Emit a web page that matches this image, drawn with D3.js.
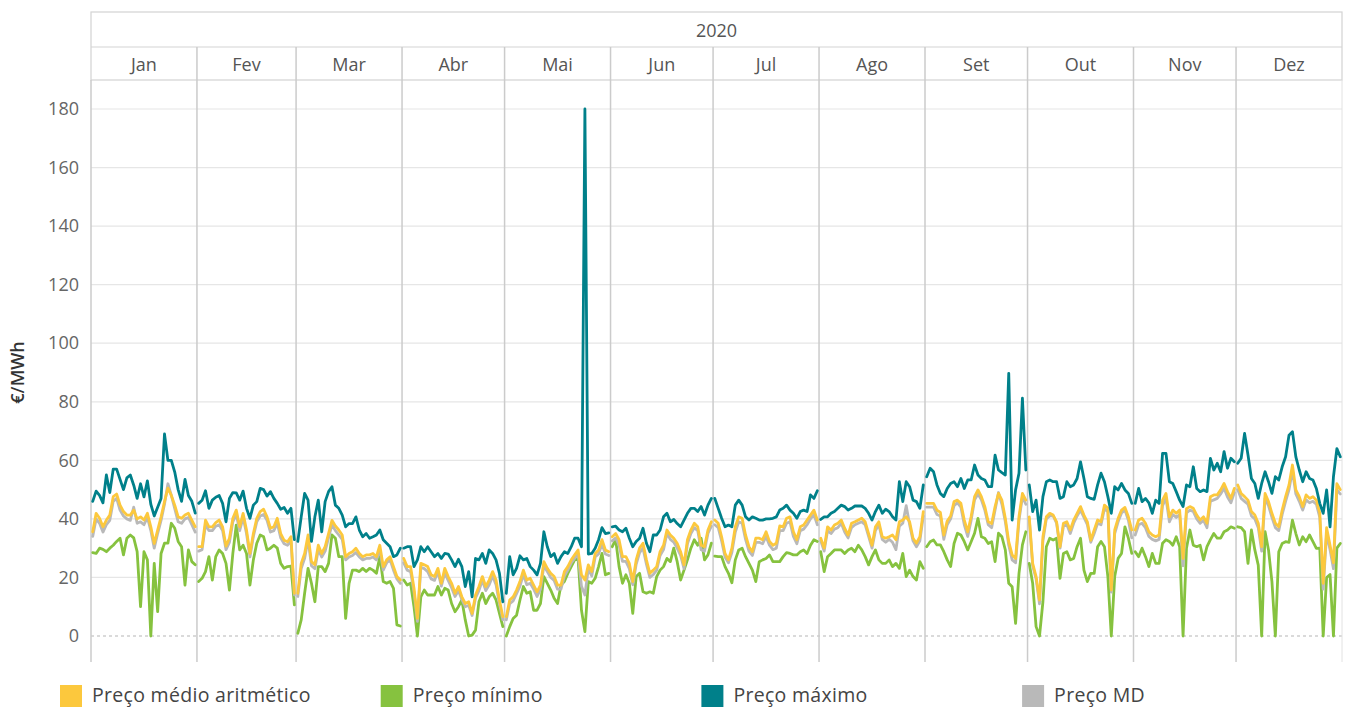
<!DOCTYPE html>
<html>
<head>
<meta charset="utf-8">
<script src="https://cdn.jsdelivr.net/npm/d3@7"></script>
<style>
  html, body { margin: 0; padding: 0; background: #fff; }
  svg { display: block; font-family: "Open Sans", "Noto Sans", sans-serif; }
</style>
</head>
<body>
<svg id="chart" width="1349" height="708"></svg>
<script>
const year = 2020;
const months = ["Jan", "Fev", "Mar", "Abr", "Mai", "Jun", "Jul", "Ago", "Set", "Out", "Nov", "Dez"];
const yTicks = [0, 20, 40, 60, 80, 100, 120, 140, 160, 180];

// daily values per month, €/MWh
const precoMaximo = [
  [46, 49.5, 48, 45.5, 55, 49, 57, 57, 53.5, 50, 54, 55, 51.5, 47, 52, 47.5, 53, 45, 41, 44, 47, 69, 60, 60, 56, 50, 46, 53.5, 48, 46, 42],
  [45.3, 46.4, 49.6, 43.6, 46.4, 47.4, 48, 45.3, 39, 47, 49, 48.9, 46.4, 49.5, 43.6, 40.2, 44.7, 45.9, 50.4, 50, 47.8, 49.3, 47, 45.3, 43.3, 43.9, 41.9, 43.6, 32.9],
  [32.3, 40.7, 48.7, 46.4, 32.3, 40.7, 46.4, 35.6, 45.9, 49.3, 51, 44.7, 43.6, 41.3, 37.3, 38.4, 38.4, 40.7, 36.2, 33.9, 35, 33.4, 33.9, 34.5, 36.2, 32.9, 31.7, 30.5, 27.1, 27.7, 30],
  [30, 30.5, 30.5, 23.7, 26, 30.5, 28.8, 30.5, 28.8, 27.1, 28.2, 26.5, 28.2, 28, 26, 23.7, 26.2, 23.7, 16.9, 22, 13.4, 26.5, 26, 28.2, 24.8, 29.4, 28.2, 26, 21.4, 11.7],
  [14.6, 27.1, 20.9, 23.1, 27.4, 26, 26.5, 23.7, 22.5, 20.9, 24.8, 35.6, 30.5, 27.1, 28.2, 24.8, 27.1, 28.8, 28.2, 30.5, 33.4, 33.4, 30.5, 180, 28, 28.2, 30, 32.9, 37, 35, 35.2],
  [37.3, 37.5, 36.2, 35.6, 36.8, 33.4, 30.5, 32.3, 33.4, 36.8, 31.7, 28.8, 34.5, 34.5, 36.2, 40.7, 41.9, 39, 39.8, 38.4, 37.3, 39.6, 41.9, 43.6, 43.6, 42.5, 44.2, 41.3, 44.7, 47],
  [47, 43.6, 40.2, 37.3, 37.9, 37.3, 44.7, 46.4, 44.7, 40.7, 39.6, 40.7, 40.2, 39.6, 39.6, 40, 40, 40.2, 40.7, 43, 43.6, 44.7, 43, 41.9, 40.2, 42.5, 43, 42.5, 48.2, 47, 49.6],
  [39.8, 40.7, 40.7, 41.9, 42.5, 43.6, 44.7, 44.2, 43, 43.6, 44.4, 44.4, 44.4, 43.6, 41.9, 39.6, 42.5, 44.7, 41.9, 43.3, 42.5, 40.7, 39.6, 52.7, 45.9, 52.7, 51, 46.4, 45.9, 43.6, 51.6],
  [54.4, 57.3, 56.1, 51.6, 48.7, 47.6, 50.4, 52.1, 52.7, 51, 53.8, 50.4, 53.3, 53.3, 58.4, 55, 53.8, 53.3, 51, 51, 61.8, 56.7, 55.8, 55, 89.7, 39.6, 49.9, 55.6, 81.2, 56.7],
  [51.6, 42.5, 46.4, 36.2, 47.6, 52.7, 53.3, 52.7, 52.7, 47, 47.6, 52.7, 51, 51.6, 53.8, 59.5, 53.8, 47.6, 47, 46.7, 51.6, 55.6, 52.7, 47.6, 41.9, 51, 49.9, 52.1, 49.9, 48.7, 45.3],
  [45.3, 50.4, 45.9, 47, 45.5, 41.9, 46.4, 45.3, 62.4, 62.4, 52.7, 52.1, 49.3, 46.4, 44.2, 51.6, 51, 57.8, 50.4, 49.3, 49.9, 49.3, 60.7, 56.7, 59, 56.1, 63, 57.3, 60.7, 59.5],
  [59, 60.7, 69.2, 61.8, 53.8, 52.1, 47, 52.1, 56.1, 52.7, 48.7, 54.4, 53.3, 57.8, 61.2, 68.6, 69.8, 61.2, 56.7, 52.7, 56.1, 53.8, 53.3, 50.4, 45.3, 41.9, 49.9, 37.3, 54.4, 64, 61.2]
];

const precoMedio = [
  [35.6, 41.9, 40.2, 37.3, 39.6, 41.3, 47.6, 48.5, 44.7, 42.5, 41.3, 41.3, 43, 40, 40.7, 39.6, 41.9, 37.3, 31.6, 36.2, 40.7, 45.9, 50.5, 48, 44.7, 40.7, 40.2, 41.3, 41.9, 39.6, 37.3],
  [30.5, 30.5, 39.6, 37.3, 37.3, 38.7, 39.6, 37.3, 30.7, 33.4, 40.2, 43, 37.3, 41.9, 36.2, 28.2, 35, 40.2, 42.5, 43.3, 40.7, 36.8, 37.3, 40.2, 35, 32.7, 32.2, 33.9, 14.6],
  [14.6, 24.8, 28.2, 34.5, 25.4, 24.3, 31, 28.2, 30.5, 35, 39.5, 37.6, 36.2, 34.5, 27.1, 28.2, 28.8, 30, 28.2, 27.1, 27.7, 27.7, 28.2, 27.1, 31, 23.7, 26, 27.1, 23.7, 20.3, 19.1],
  [26.5, 23.7, 23.7, 16.3, 6, 24.8, 24.3, 23.7, 20.9, 20.3, 23.1, 18, 23.1, 20.3, 18, 14.6, 16.9, 13.4, 11.1, 11.7, 7.7, 14, 16.9, 20.3, 16.9, 19.1, 22, 19.1, 12.3, 6.6],
  [6.6, 12.3, 13.4, 15.7, 18.6, 22.5, 19.1, 19.7, 17.4, 15.1, 17.4, 25.4, 23.1, 21.4, 20.3, 17.4, 17.4, 22, 23.7, 26, 27.7, 29.4, 20.9, 19.1, 24.3, 22, 28.2, 29.4, 32.9, 29.4, 28.8],
  [33.9, 35, 32.9, 27.1, 27.1, 24.8, 18.6, 26, 30, 31.7, 26, 21.4, 22.5, 23.7, 28.8, 31, 36.2, 34.5, 33.4, 31.7, 28.8, 24.3, 32.9, 36.2, 38.5, 37.3, 31, 30.5, 36.2, 39],
  [39.6, 38.5, 33.9, 28.2, 26, 30, 37.3, 40.7, 40.2, 34.5, 30.5, 28.8, 33.4, 33.4, 32.9, 35.6, 32.3, 31, 31.7, 37.6, 37.3, 40.2, 40.7, 35.6, 32.9, 37.3, 37.9, 39.6, 41.3, 43, 39.6],
  [33.4, 30, 37.3, 36.2, 37.9, 38.5, 39.6, 36.8, 34.5, 38.5, 39, 39.6, 40.2, 39, 35, 31, 37.3, 39, 33.9, 33.4, 33.9, 34.5, 32.9, 39, 39.6, 40.7, 39, 33.4, 31.7, 33.9, 42.5],
  [45.3, 45.3, 45.3, 43, 42.2, 34.5, 39.3, 41, 45.9, 46.4, 45.3, 39.6, 35.6, 40.8, 47.6, 49.9, 47.6, 44.2, 39, 38.4, 44.2, 48.7, 46.4, 40.2, 32.2, 27.7, 26.5, 40.8, 48.7, 46.4],
  [40.7, 24.8, 20.3, 12.3, 33.9, 40.7, 41.9, 41.3, 39, 30.5, 38.5, 39, 36.2, 39.6, 41.9, 44.2, 41.3, 39, 32.7, 36.2, 39.6, 39, 44.7, 43.6, 15.7, 36.2, 40.2, 43, 43.9, 40.7, 36.2],
  [36.2, 39.6, 40.2, 38.5, 35.6, 34.5, 33.9, 34.5, 46.4, 48.7, 40.7, 43, 41.9, 43, 26.5, 43.5, 44.2, 43.6, 41.3, 39.6, 40.7, 38.5, 47.6, 48.2, 48.2, 49.9, 52.1, 49.3, 47, 50.4],
  [51.6, 48.7, 47.6, 46.4, 42.5, 41.3, 38.5, 30.5, 48.7, 45.9, 41.9, 38.5, 37.3, 43, 47.6, 51.6, 58.4, 49.9, 47.6, 44.2, 48.2, 47, 47.6, 46.4, 42, 18, 37, 31, 25, 52, 50]
];

const precoMinimo = [
  [28.5, 28.2, 30, 29.6, 28.8, 30, 31, 32.3, 33.4, 27.7, 33.4, 34.5, 33.5, 28.8, 10, 28.8, 26, 0, 24.8, 8.3, 28.2, 31.7, 31.7, 38.5, 36.8, 32.3, 30.5, 17.4, 29.4, 25.4, 24.3],
  [18.6, 19.7, 22, 27.1, 19.1, 27.1, 29.4, 28.2, 24.8, 15.7, 28.2, 37.9, 29.4, 31, 28.2, 17.4, 26, 31.7, 34.5, 33.9, 29.4, 30, 31, 30, 24.8, 23.1, 23.7, 23.9, 10.6],
  [0.9, 5.5, 14.6, 23.1, 18, 11.7, 23.7, 23.7, 22, 24.8, 34.5, 33.4, 27.1, 27.1, 6, 18, 22.5, 22.5, 22, 23.1, 22, 23.1, 22.5, 21.4, 27.1, 18.6, 18, 18.6, 16.3, 3.8, 3.4],
  [19.1, 17.4, 18, 10, 0, 13.4, 15.7, 14, 14, 14, 16.9, 14, 16.3, 15.7, 11.1, 8.3, 10, 12.3, 5.5, 0, 0.3, 2, 11.7, 14.6, 11.1, 13.4, 14.6, 12.3, 7.7, 3.2],
  [0, 3.2, 6, 7.1, 12.3, 16.9, 14.6, 15.1, 8.8, 8.8, 11.1, 20.3, 18, 15.7, 12.9, 11.1, 17.4, 18.6, 21.4, 23.7, 26, 26.5, 8.8, 1.5, 18.6, 18, 19.7, 23.7, 28.2, 20.9, 21.4],
  [30.5, 32.9, 23.7, 18, 20.9, 18, 7.7, 20.3, 21.4, 15.1, 14.6, 15.1, 14.6, 20.3, 22.5, 23.7, 26.5, 25.4, 30, 25.4, 19.1, 22.5, 26, 30, 32.9, 31, 33.4, 26, 27.7, 31.7],
  [27.3, 27.1, 27.1, 23.7, 21.4, 18.2, 26, 29.4, 30, 27.1, 24.8, 22.5, 18.6, 25.4, 26, 26.5, 27.7, 25.4, 25.4, 25.4, 27.1, 28.5, 28.2, 27.7, 27.7, 28.8, 29.4, 28.2, 31, 32.9, 32.3],
  [28.8, 22, 27.1, 28.2, 29.4, 29.4, 29.4, 28.2, 29.4, 30, 28.8, 31, 29.4, 27.1, 24.3, 27.1, 29.4, 26, 24.8, 24.8, 26, 23.7, 24.8, 23.1, 28.2, 20.3, 22.5, 20.3, 19.1, 25.4, 23.1],
  [30.5, 32.2, 32.8, 31.1, 31.1, 28.8, 26, 23.7, 31.6, 35.1, 34.5, 32.2, 29.4, 32.2, 35.1, 40.2, 33.9, 33.4, 31.6, 32.2, 25.4, 35.1, 33.9, 29.4, 18, 16.8, 4.3, 21.4, 31.1, 35.6],
  [24.8, 18, 3.2, 0, 11.7, 30.5, 33.4, 32.8, 33.4, 19.7, 28.2, 28.8, 26, 26.5, 30.5, 33.4, 22.5, 18.6, 21.4, 21.4, 30.5, 32.3, 30.5, 20.3, 0, 20.3, 26.5, 28.2, 37.3, 33.4, 28.2],
  [28.8, 27.1, 30, 27.1, 23.7, 28.2, 24.8, 24.8, 31.7, 32.9, 32.3, 31, 33.9, 30.5, 0, 30, 36.2, 31, 30.5, 31, 26, 30.5, 32.9, 35, 33.4, 33.4, 35.6, 36.2, 37.3, 36.8],
  [37.3, 37, 35.6, 24.8, 36.2, 29.4, 24.2, 0, 35.6, 29.4, 18.6, 0, 28.8, 31.6, 32.2, 32, 39.6, 35, 31.1, 33.9, 32.2, 34.5, 32.2, 29.9, 30, 0, 20, 21, 0, 30, 31.6]
];

const precoMD = [
  [34, 40, 38.5, 35.5, 38, 39.5, 46, 47, 43, 41, 40, 39.5, 44, 38.5, 39, 38, 40.5, 36, 30, 35, 39.5, 45, 52, 48, 43.5, 39, 38.5, 40, 40.5, 38, 35.5],
  [29, 29.5, 38, 36, 36, 37.5, 38, 36, 29.5, 32, 39, 41.5, 36, 40.5, 35, 27, 34, 39, 41, 41.5, 39.5, 35.5, 36, 38.5, 33.5, 31.5, 31, 32.5, 14],
  [13.5, 23, 26.5, 33, 24, 23, 29.5, 27, 29, 33.5, 38, 36, 34.5, 33, 26, 27, 27.5, 28.5, 27, 26, 26.5, 26.5, 27, 26, 29.5, 22.5, 25, 26, 22.5, 19.5, 18],
  [25, 22.5, 22, 15, 5, 23.5, 23, 22, 19.5, 19, 22, 17, 21.5, 19, 16.5, 13.5, 15.5, 12.5, 10, 10.5, 7, 13, 15.5, 19, 15.5, 17.5, 20.5, 17.5, 11, 5.5],
  [5.5, 11, 12, 14.5, 17, 21, 17.5, 18, 16, 13.5, 16, 24, 22, 20, 19, 16, 16, 20.5, 22.5, 25, 26.5, 28, 17, 14, 23, 20.5, 27, 28, 31.5, 28, 27.5],
  [32.5, 33.5, 31, 25.5, 25.5, 23, 17.5, 24.5, 28.5, 30, 24.5, 20, 21, 22.5, 27.5, 29.5, 35, 33, 32, 30, 27.5, 23, 31.5, 35, 37, 36, 29.5, 29, 35, 37.5],
  [38, 37, 32.5, 27, 25, 28.5, 35.5, 39, 38.5, 33, 29, 27.5, 32, 32, 31.5, 34, 31, 29.5, 30, 36, 36, 38.5, 39, 34, 31.5, 36, 36.5, 38, 40, 41.5, 38],
  [32.5, 29, 36, 35, 36.5, 37, 38.5, 35.5, 33.5, 37, 38, 38.5, 39, 38, 34, 30, 36, 38, 33, 32, 33, 32, 29.5, 37.5, 38.5, 44.5, 38, 32.5, 30.5, 32.5, 41],
  [44, 44, 44, 41.5, 41, 33, 38, 40, 44.5, 45.5, 44, 38, 34, 39.5, 46.5, 48.5, 46.5, 43, 38, 37, 43, 49, 45, 39, 31, 26, 25, 39.5, 47.5, 45],
  [40, 24, 19.5, 11, 32.5, 40, 41, 41, 38.5, 30, 37.5, 38, 35, 38.5, 41, 43, 40.5, 38, 32, 35, 38.5, 38, 43.5, 42.5, 15, 35, 39, 42, 43, 39.5, 33.5],
  [34.5, 38, 38.5, 37, 34, 33, 32.5, 33, 44.5, 47, 39, 41.5, 40.5, 41.5, 24, 42, 43, 42.5, 40, 38.5, 39.5, 37, 46, 46.5, 47, 48.5, 50.5, 47.5, 45.5, 49],
  [50, 47, 46, 45, 41, 40, 37, 29, 47, 44.5, 40.5, 37, 36, 41.5, 46, 50, 56.5, 48.5, 46, 43, 46.5, 45.5, 46, 45, 40.5, 16, 35, 29.5, 23, 50, 48.5]
];

const series = [
  { label: "Preço mínimo", color: "#86c23f", data: precoMinimo },
  { label: "Preço MD", color: "#b9b9b9", data: precoMD },
  { label: "Preço médio aritmético", color: "#fcc83d", data: precoMedio },
  { label: "Preço máximo", color: "#00808a", data: precoMaximo }
];
const legendOrder = ["Preço médio aritmético", "Preço mínimo", "Preço máximo", "Preço MD"];

const svg = d3.select("#chart");
const left = 91, right = 1342, plotTop = 80, plotBottom = 662;
const headTop = 12, headMid = 47;

const x = d3.scaleTime().domain([new Date(year, 0, 1), new Date(year + 1, 0, 1)]).range([left, right]);
const y = d3.scaleLinear().domain([0, 180]).range([636, 109]);

const monthStarts = d3.range(12).map((m) => new Date(year, m, 1));
const monthEnds = d3.range(12).map((m) => new Date(year, m + 1, 1));

// horizontal grid
svg.append("g")
  .selectAll("line")
  .data(yTicks.filter((d) => d > 0))
  .join("line")
  .attr("x1", left).attr("x2", right)
  .attr("y1", (d) => y(d)).attr("y2", (d) => y(d))
  .attr("stroke", "#e6e6e6").attr("stroke-width", 1.2);

svg.append("line")
  .attr("x1", left).attr("x2", right)
  .attr("y1", y(0)).attr("y2", y(0))
  .attr("stroke", "#b5b5b5").attr("stroke-width", 1)
  .attr("stroke-dasharray", "3 3");

// header boxes
const hdr = svg.append("g").attr("stroke", "#d3d3d3").attr("stroke-width", 1.2).attr("fill", "none");
hdr.append("rect").attr("x", left).attr("y", headTop).attr("width", right - left).attr("height", plotTop - headTop);
hdr.append("line").attr("x1", left).attr("x2", right).attr("y1", headMid).attr("y2", headMid);

svg.append("text")
  .attr("x", (left + right) / 2).attr("y", 37)
  .attr("text-anchor", "middle")
  .attr("font-size", 18).attr("fill", "#555")
  .text(String(year));

svg.append("g")
  .selectAll("text")
  .data(months)
  .join("text")
  .attr("x", (d, i) => (x(monthStarts[i]) + x(monthEnds[i])) / 2)
  .attr("y", 71)
  .attr("text-anchor", "middle")
  .attr("font-size", 18).attr("fill", "#555")
  .text((d) => d);

// month dividers
svg.append("g")
  .selectAll("line")
  .data(monthStarts.slice(1))
  .join("line")
  .attr("x1", (d) => x(d)).attr("x2", (d) => x(d))
  .attr("y1", headMid).attr("y2", plotBottom)
  .attr("stroke", "#cbcbcb").attr("stroke-width", 1.5);

svg.append("line")
  .attr("x1", left).attr("x2", left).attr("y1", plotTop).attr("y2", plotBottom)
  .attr("stroke", "#cbcbcb").attr("stroke-width", 1.5);
svg.append("line")
  .attr("x1", right).attr("x2", right).attr("y1", plotTop).attr("y2", plotBottom)
  .attr("stroke", "#e2e2e2").attr("stroke-width", 1);

// y axis
const yAxis = svg.append("g")
  .attr("transform", `translate(${left},0)`)
  .call(d3.axisLeft(y).tickValues(yTicks).tickSize(0).tickPadding(12));
yAxis.select(".domain").remove();
yAxis.selectAll("text").attr("font-size", 18).attr("fill", "#666").attr("font-family", "'Open Sans', sans-serif");

svg.append("text")
  .attr("transform", `translate(24,${y(90)}) rotate(-90)`)
  .attr("text-anchor", "middle")
  .attr("font-size", 18).attr("font-weight", 600).attr("fill", "#333")
  .text("€/MWh");

// lines, one path per month pane
const line = d3.line()
  .x((d) => x(d.date))
  .y((d) => y(d.value))
  .curve(d3.curveLinear);

const lines = svg.append("g");
series.forEach((s) => {
  s.data.forEach((vals, m) => {
    const pts = vals.map((v, i) => ({ date: new Date(year, m, i + 1, 12), value: v }));
    lines.append("path")
      .datum(pts)
      .attr("d", line)
      .attr("fill", "none")
      .attr("stroke", s.color)
      .attr("stroke-width", 2.8)
      .attr("stroke-linejoin", "round")
      .attr("stroke-linecap", "round");
  });
});

// legend
const legend = svg.append("g")
  .selectAll("g")
  .data(legendOrder)
  .join("g")
  .attr("transform", (d, i) => `translate(${60 + i * 320.7},685)`);
legend.append("rect")
  .attr("width", 22).attr("height", 22)
  .attr("fill", (d) => series.find((s) => s.label === d).color);
legend.append("text")
  .attr("x", 32).attr("y", 17)
  .attr("font-size", 19.5).attr("letter-spacing", 0.3).attr("fill", "#444")
  .text((d) => d);
</script>
</body>
</html>
